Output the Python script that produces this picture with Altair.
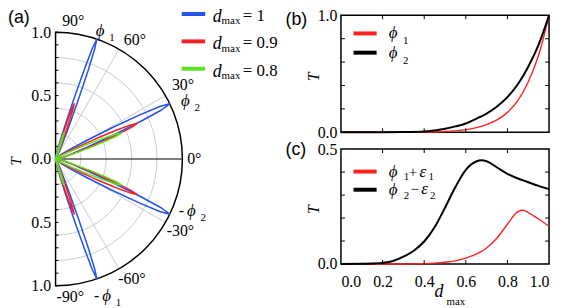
import math
import altair as alt
import pandas as pd

# ---------------- data ----------------
# panel (a): polar transmission lobes for three d_max values
d_levels = ["1", "0.9", "0.8"]
lobe_colors = ["#2352ee", "#f22222", "#5ae024"]
phi1_angle = [71.0, 71.4, 72.0]      # degrees
phi1_peak = [1.0, 0.46, 0.22]        # T at lobe tip
phi2_angle = [25.8, 23.5, 21.5]
phi2_peak = [1.0, 0.70, 0.56]
phi1_width = 2.0                      # angular half width (deg)
phi2_width = 3.2
# lobe profile (angle offset in units of the width, fraction of the peak)
lobe_offset = [-4.0, -2.5, -1.6, -1.0, -0.6, -0.3, 0.0, 0.3, 0.6, 1.0, 1.6, 2.5, 4.0]
lobe_frac = [0.06, 0.14, 0.28, 0.50, 0.74, 0.92, 1.0, 0.92, 0.74, 0.50, 0.28, 0.14, 0.06]

grid_radii = [0.2, 0.4, 0.6, 0.8]
grid_angles = [60, 30, -30, -60]
radial_ticks = [-1.0, -0.9, -0.8, -0.7, -0.6, -0.5, -0.4, -0.3, -0.2, -0.1, 0.0,
                0.1, 0.2, 0.3, 0.4, 0.5, 0.6, 0.7, 0.8, 0.9, 1.0]
radial_labels = [-1.0, -0.5, 0.0, 0.5, 1.0]
# angular tick labels and where they sit (angle in degrees, radius in T units)
angle_label_vals = [90, 60, 30, 0, -30, -60, -90]
angle_label_pos_a = [82.7, 56.4, 30.0, 0.0, -29.9, -57.6, -83.9]
angle_label_pos_r = [1.099, 1.13, 1.16, 1.094, 1.136, 1.124, 1.096]
# phi annotations
phi_label_angle = [70.8, 24.0, -21.0, -69.6]
phi_label_r = [1.07, 1.12, 1.146, 1.154]
phi_label_sub = ["1", "2", "2", "1"]
phi_label_neg = [0, 0, 1, 1]

# panel (b): T at phi1 / phi2 vs d_max
b_d = [0.0, 0.1, 0.2, 0.3, 0.4, 0.45, 0.5, 0.55, 0.6, 0.65, 0.7, 0.75, 0.8, 0.85, 0.9, 0.95, 1.0]
b_phi1 = [0.0, 0.0, 0.0, 0.0, 0.001, 0.002, 0.006, 0.012, 0.022, 0.040, 0.066, 0.105, 0.17, 0.27, 0.43, 0.66, 1.0]
b_phi2 = [0.0, 0.0, 0.0005, 0.002, 0.007, 0.015, 0.03, 0.05, 0.075, 0.115, 0.16, 0.22, 0.30, 0.41, 0.56, 0.75, 1.0]

# panel (c): T at phi1+eps1 / phi2-eps2 vs d_max
c_d = [0.0, 0.1, 0.15, 0.2, 0.25, 0.3, 0.35, 0.4, 0.45, 0.5, 0.55, 0.6, 0.65, 0.675, 0.7,
       0.75, 0.8, 0.85, 0.875, 0.9, 0.95, 1.0]
c_phi1 = [0.0, 0.0, 0.0, 0.0, 0.0, 0.0, 0.001, 0.002, 0.004, 0.008, 0.014, 0.026, 0.043, 0.055, 0.070,
          0.113, 0.173, 0.228, 0.234, 0.224, 0.196, 0.164]
c_phi2 = [0.0, 0.001, 0.002, 0.005, 0.013, 0.032, 0.058, 0.098, 0.16, 0.245, 0.335, 0.41, 0.446, 0.451, 0.447,
          0.42, 0.392, 0.372, 0.364, 0.356, 0.34, 0.326]

ticks_x = [0.2, 0.4, 0.6, 0.8]
ticks_b_y = [0.2, 0.4, 0.6, 0.8]
ticks_c_y = [0.1, 0.2, 0.3, 0.4]

SERIF = "Liberation Serif"
SANS = "Liberation Sans"
RED = "#ff2020"
PHI = "ϕ"

# ---------------- panel (a) ----------------
R_PX = 128
A_H = 273
ytop = -1 + A_H / R_PX
xs = alt.Scale(domain=[0, 1], nice=False, zero=False)
ys = alt.Scale(domain=[-1, ytop], nice=False, zero=False)
yaxis_a = alt.Axis(values=radial_labels, labelExpr="format(abs(datum.value), '.1f')",
                   domain=False, ticks=False, grid=False, title=None, labelPadding=5,
                   labelFont=SERIF, labelFontSize=16, labelColor="black")


def XA(f):
    return alt.X(f, type="quantitative", scale=xs, axis=None)


def YA(f):
    return alt.Y(f, type="quantitative", scale=ys, axis=yaxis_a)


rows = []
for i, lev in enumerate(d_levels):
    for name, ang, peak, w in [("p1", phi1_angle[i], phi1_peak[i], phi1_width),
                               ("p2", phi2_angle[i], phi2_peak[i], phi2_width)]:
        for sgn in (1, -1):
            lobe = f"{lev}_{name}_{sgn}"
            rows.append(dict(d=lev, lobe=lobe, k=0, ang=sgn * ang, T=0.0))
            for j, (off, fr) in enumerate(zip(lobe_offset, lobe_frac)):
                rows.append(dict(d=lev, lobe=lobe, k=j + 1, ang=sgn * (ang + off * w), T=peak * fr))
            rows.append(dict(d=lev, lobe=lobe, k=len(lobe_offset) + 1, ang=sgn * ang, T=0.0))
lobes_df = pd.DataFrame(rows)

radr = alt.Scale(type="linear", domain=[0, 1], range=[0, R_PX], zero=True)

grid_arcs = alt.Chart(pd.DataFrame({"r": grid_radii, "cx": 0.0, "cy": 0.0})).mark_arc(
    filled=False, stroke="#c5ccd2", strokeWidth=1
).encode(x=XA("cx"), y=YA("cy"), radius=alt.Radius("r:Q", scale=radr, stack=None),
         theta=alt.value(0), theta2=alt.value(math.pi))

grid_spokes = alt.Chart(pd.DataFrame({"a": grid_angles})).transform_calculate(
    ox="0", oy="0", ex="cos(datum.a*PI/180)", ey="sin(datum.a*PI/180)"
).mark_rule(color="#c5ccd2", strokeWidth=1).encode(
    x=XA("ox"), y=YA("oy"), x2="ex:Q", y2="ey:Q")

zero_line = alt.Chart(pd.DataFrame({"a": [0]})).transform_calculate(
    ox="0", oy="0", ex="cos(datum.a*PI/180)", ey="sin(datum.a*PI/180)"
).mark_rule(color="black", strokeWidth=1.2).encode(
    x=XA("ox"), y=YA("oy"), x2="ex:Q", y2="ey:Q")

outer_arc = alt.Chart(pd.DataFrame({"r": [1.0], "cx": 0.0, "cy": 0.0})).mark_arc(
    filled=False, stroke="black", strokeWidth=1.5
).encode(x=XA("cx"), y=YA("cy"), radius=alt.Radius("r:Q", scale=radr, stack=None),
         theta=alt.value(0), theta2=alt.value(math.pi))

axis_ticks = alt.Chart(pd.DataFrame({"v": radial_ticks})).mark_rule(
    color="black", strokeWidth=1).encode(y=YA("v"), x=alt.value(0), x2=alt.value(3))

lobe_layers = []
for lev, col in zip(d_levels, lobe_colors):
    lobe_layers.append(
        alt.Chart(lobes_df).transform_filter(alt.datum.d == lev).transform_calculate(
            px="datum.T*cos(datum.ang*PI/180)", py="datum.T*sin(datum.ang*PI/180)"
        ).mark_line(color=col, strokeWidth=1.5, strokeJoin="round").encode(
            x=XA("px"), y=YA("py"), detail="lobe:N", order="k:Q")
    )

ang_text = alt.Chart(pd.DataFrame({"v": angle_label_vals, "a": angle_label_pos_a,
                                   "r": angle_label_pos_r})).transform_calculate(
    lx="datum.r*cos(datum.a*PI/180)", ly="datum.r*sin(datum.a*PI/180)",
    lab="datum.v + '°'"
).mark_text(font=SERIF, fontSize=16, align="center", baseline="middle", color="black").encode(
    x=XA("lx"), y=YA("ly"), text="lab:N")

phi_lab = pd.DataFrame({"a": phi_label_angle, "r": phi_label_r,
                        "sub": phi_label_sub, "neg": phi_label_neg})
phi_base = alt.Chart(phi_lab).transform_calculate(
    lx="datum.r*cos(datum.a*PI/180)", ly="datum.r*sin(datum.a*PI/180)")
phi_text = phi_base.mark_text(font=SERIF, fontSize=17, fontStyle="italic", color="black").encode(
    x=XA("lx"), y=YA("ly"), text=alt.value(PHI))
phi_sub = phi_base.mark_text(font=SERIF, fontSize=11, dx=12, dy=7, color="black").encode(
    x=XA("lx"), y=YA("ly"), text="sub:N")
phi_minus = phi_base.transform_filter(alt.datum.neg == 1).mark_text(
    font=SERIF, fontSize=16, dx=-10, color="black").encode(
    x=XA("lx"), y=YA("ly"), text=alt.value("-"))


def label(txt, x, y, size=16, font=SERIF, style="normal", align="center", baseline="middle", angle=0):
    return alt.Chart(pd.DataFrame({"t": [txt]})).mark_text(
        font=font, fontSize=size, fontStyle=style, align=align, baseline=baseline,
        angle=angle, color="black"
    ).encode(x=alt.value(x), y=alt.value(y), text="t:N")


# invisible layout anchor: fixes the top-left corner of the whole figure
anchor = alt.Chart(pd.DataFrame({"t": [0]})).mark_rule(opacity=0, strokeWidth=1).encode(
    x=alt.value(-51.5), x2=alt.value(-51.5), y=alt.value(-11.5), y2=alt.value(-11.5))

a_extra = [
    anchor,
    label("(a)", -48, -6, size=18, font=SANS, align="left", baseline="top"),
    label("T", -40, 147.5, size=15, style="italic", angle=270),
]
for i, (lev, col) in enumerate(zip(d_levels, lobe_colors)):
    yy = -1.3 + 27.6 * i
    a_extra.append(
        alt.Chart(pd.DataFrame({"t": [lev]})).mark_rule(color=col, strokeWidth=4).encode(
            x=alt.value(127.3), x2=alt.value(151), y=alt.value(yy)))
    a_extra.append(label("d", 163, yy + 3, size=18, style="italic"))
    a_extra.append(label("max", 177, yy + 7.5, size=11))
    a_extra.append(label("= " + lev, 189, yy + 2, size=17, align="left"))

panel_a = alt.layer(
    grid_arcs, grid_spokes, zero_line, outer_arc, axis_ticks, *lobe_layers,
    ang_text, phi_text, phi_sub, phi_minus, *a_extra
).properties(width=R_PX, height=A_H, view=alt.ViewBackground(strokeOpacity=0))

# ---------------- panels (b) and (c) ----------------
W = 210
HB = 118
HC = 116


def panel(dvals, red, black, ymax, yticks, H, legend_rows, xlabels, tag, tag_y):
    df = pd.DataFrame({"d": dvals, "red": red, "black": black})
    xsc = alt.Scale(domain=[0, 1], nice=False, zero=False)
    ysc = alt.Scale(domain=[0, ymax], nice=False, zero=False)
    xax = alt.Axis(values=[0, 0.2, 0.4, 0.6, 0.8, 1.0], format=".1f", labels=xlabels,
                   ticks=False, domain=False, grid=False, title=None, labelPadding=10,
                   labelFont=SERIF, labelFontSize=16, labelColor="black")
    yax = alt.Axis(values=[0, ymax], format=".1f", ticks=False, domain=False, grid=False,
                   title=None, labelPadding=4, labelFont=SERIF, labelFontSize=16, labelColor="black")
    X = alt.X("d:Q", scale=xsc, axis=xax)
    red_line = alt.Chart(df).mark_line(color=RED, strokeWidth=1.4, interpolate="monotone").encode(
        x=X, y=alt.Y("red:Q", scale=ysc, axis=yax))
    black_line = alt.Chart(df).mark_line(color="black", strokeWidth=2, interpolate="monotone").encode(
        x=X, y=alt.Y("black:Q", scale=ysc, axis=yax))
    tx = pd.DataFrame({"v": ticks_x})
    ty = pd.DataFrame({"v": yticks})
    tk = [
        alt.Chart(tx).mark_rule(color="black").encode(
            x=alt.X("v:Q", scale=xsc, axis=xax), y=alt.value(H), y2=alt.value(H - 4)),
        alt.Chart(tx).mark_rule(color="black").encode(
            x=alt.X("v:Q", scale=xsc, axis=xax), y=alt.value(0), y2=alt.value(4)),
        alt.Chart(ty).mark_rule(color="black").encode(
            y=alt.Y("v:Q", scale=ysc, axis=yax), x=alt.value(0), x2=alt.value(4)),
        alt.Chart(ty).mark_rule(color="black").encode(
            y=alt.Y("v:Q", scale=ysc, axis=yax), x=alt.value(W), x2=alt.value(W - 4)),
    ]
    extra = [label(tag, -56, tag_y, size=18, font=SANS, align="left"),
             label("T", -27, H / 2 + 3, size=16, style="italic", angle=270)]
    for col, yy in zip([RED, "black"], legend_rows):
        extra.append(alt.Chart(pd.DataFrame({"t": [col]})).mark_rule(color=col, strokeWidth=4).encode(
            x=alt.value(12.7), x2=alt.value(36), y=alt.value(yy)))
    return [red_line, black_line] + tk + extra


b_layers = panel(b_d, b_phi1, b_phi2, 1.0, ticks_b_y, HB, [18.3, 37.7], False, "(b)", 5)
b_layers += [
    label(PHI, 52.7, 18.3, size=17, style="italic"),
    label("1", 65.3, 26, size=11),
    label(PHI, 52.7, 37.7, size=17, style="italic"),
    label("2", 65.3, 46, size=11),
]
panel_b = alt.layer(*b_layers).properties(width=W, height=HB)

c_layers = panel(c_d, c_phi1, c_phi2, 0.5, ticks_c_y, HC, [22.7, 41], True, "(c)", 1)
c_layers += [
    label(PHI, 52.7, 22.7, size=17, style="italic"),
    label("1", 66, 28.5, size=11),
    label("+", 72.7, 22.7, size=15),
    label("ε", 82.7, 22.7, size=17, style="italic"),
    label("1", 91, 28, size=11),
    label(PHI, 52.7, 41, size=17, style="italic"),
    label("2", 66, 47.5, size=11),
    label("−", 74.3, 40.5, size=15),
    label("ε", 84.3, 40.5, size=17, style="italic"),
    label("2", 92.7, 47, size=11),
    label("d", 99, 144, size=18, style="italic"),
    label("max", 116, 154, size=11),
]
panel_c = alt.layer(*c_layers).properties(width=W, height=HC)

right = alt.vconcat(panel_b, panel_c, spacing=17, bounds="flush")
chart = alt.hconcat(panel_a, right, spacing=160, bounds="flush").properties(
    padding={"left": -4, "top": -6, "right": 0, "bottom": 0}
).configure_view(stroke="black", strokeWidth=1.5)

chart.save("out.html", embed_options={"renderer": "svg", "actions": False})
